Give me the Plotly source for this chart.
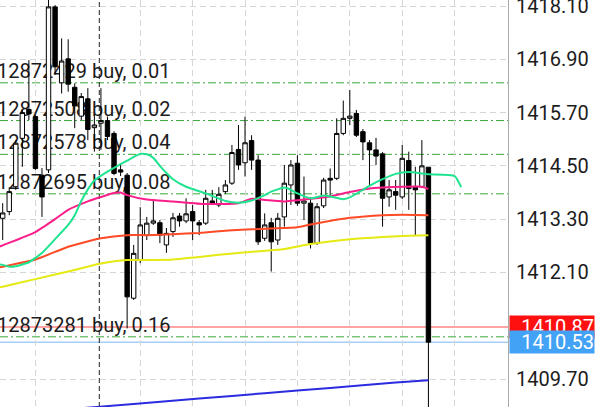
import plotly.graph_objects as go

# ---------------- data ----------------
bars = list(range(66))
opens = [1413.32, 1413.47, 1414.03, 1415.12, 1415.77, 1415.61, 1414.29, 1414.41, 1418.08, 1416.37,
         1416.91, 1416.27, 1415.62, 1416.01, 1415.36, 1415.46, 1415.52, 1415.23, 1414.41, 1414.29,
         1411.52, 1412.38, 1412.94, 1413.21, 1413.22, 1412.72, 1413.02, 1413.37, 1413.26, 1413.47,
         1413.22, 1413.21, 1413.71, 1413.62, 1413.92, 1414.11, 1414.87, 1414.57, 1415.07, 1414.63,
         1412.87, 1413.22, 1412.83, 1413.35, 1414.07, 1414.56, 1413.66, 1413.66, 1412.76, 1413.60,
         1414.22, 1414.22, 1415.23, 1415.57, 1415.68, 1415.27, 1415.02, 1414.86, 1414.77, 1413.80,
         1413.92, 1413.80, 1414.62, 1414.02, 1414.03, 1414.47]
highs = [1413.66, 1414.02, 1415.08, 1415.76, 1416.88, 1415.64, 1414.45, 1418.30, 1418.12, 1417.37,
         1417.35, 1416.36, 1416.14, 1416.25, 1415.64, 1416.25, 1415.61, 1415.28, 1414.56, 1414.34,
         1412.72, 1413.57, 1413.35, 1413.73, 1413.28, 1413.10, 1413.44, 1413.44, 1413.77, 1413.62,
         1413.28, 1413.96, 1413.96, 1414.02, 1414.18, 1414.97, 1415.42, 1415.61, 1415.19, 1414.74,
         1413.43, 1413.33, 1413.44, 1414.52, 1414.63, 1414.74, 1414.26, 1413.80, 1413.66, 1414.23,
         1414.44, 1415.57, 1415.97, 1416.21, 1415.76, 1415.33, 1415.08, 1415.13, 1414.81, 1414.18,
         1414.18, 1414.97, 1414.82, 1414.48, 1415.08, 1414.47]
lows = [1412.83, 1413.39, 1413.96, 1414.48, 1415.53, 1414.41, 1413.35, 1414.34, 1416.55, 1416.13,
        1416.17, 1415.35, 1415.53, 1415.08, 1414.82, 1414.86, 1415.08, 1414.29, 1414.27, 1410.84,
        1411.48, 1412.31, 1412.83, 1413.17, 1412.76, 1412.54, 1412.90, 1413.13, 1413.21, 1412.83,
        1412.94, 1413.17, 1413.62, 1413.57, 1413.87, 1414.07, 1414.41, 1414.26, 1414.41, 1412.72,
        1412.81, 1412.12, 1412.72, 1413.13, 1413.62, 1413.60, 1413.28, 1412.64, 1412.72, 1413.55,
        1413.80, 1414.18, 1415.19, 1415.42, 1415.15, 1414.63, 1414.07, 1414.52, 1413.13, 1413.58,
        1413.51, 1413.75, 1413.51, 1412.94, 1414.00, 1408.89]
closes = [1413.44, 1413.92, 1415.01, 1415.70, 1415.67, 1414.44, 1413.80, 1418.08, 1416.73, 1416.86,
          1416.34, 1415.85, 1416.06, 1415.32, 1415.42, 1415.52, 1415.16, 1414.33, 1414.36, 1411.55,
          1412.53, 1413.17, 1413.21, 1413.26, 1412.94, 1412.98, 1413.33, 1413.26, 1413.42, 1413.26,
          1413.17, 1413.77, 1413.66, 1413.86, 1414.07, 1414.80, 1414.52, 1415.02, 1414.63, 1412.79,
          1413.17, 1412.79, 1413.32, 1414.11, 1414.52, 1413.66, 1413.71, 1412.76, 1413.58, 1414.18,
          1414.18, 1415.23, 1415.57, 1415.62, 1415.19, 1415.04, 1414.86, 1414.72, 1413.77, 1413.96,
          1413.84, 1414.67, 1413.99, 1413.96, 1414.50, 1410.53]

green_x = [-1, 0, 1, 2, 4, 6, 8, 10, 11, 12, 13, 14, 16, 19, 21, 22, 23, 24, 25, 26, 28, 31, 34, 36, 38,
           40, 41, 43, 44, 45, 47, 49, 50, 52, 53, 55, 56, 58, 60, 62, 65, 69, 70]
green_y = [1412.29, 1412.27, 1412.23, 1412.24, 1412.33, 1412.54, 1412.85, 1413.17, 1413.39, 1413.71, 1413.97,
           1414.17, 1414.37, 1414.62, 1414.77, 1414.76, 1414.68, 1414.50, 1414.34, 1414.20, 1414.03,
           1413.88, 1413.71, 1413.67, 1413.72, 1413.84, 1413.92, 1414.01, 1413.96, 1413.88, 1413.77,
           1413.83, 1413.81, 1413.75, 1413.79, 1413.96, 1414.05, 1414.20, 1414.32, 1414.36, 1414.31,
           1414.27, 1414.02]
magenta_x = [-1, 0, 5, 8, 10, 13, 15, 17, 18, 19, 22, 26, 31, 36, 38, 40, 43, 47, 50, 53, 56, 58, 64, 65]
magenta_y = [1412.65, 1412.71, 1413.01, 1413.30, 1413.51, 1413.70, 1413.80, 1413.89, 1413.90, 1413.84,
             1413.74, 1413.70, 1413.64, 1413.66, 1413.76, 1413.73, 1413.70, 1413.76, 1413.81, 1413.91,
             1413.99, 1414.01, 1414.03, 1413.98]
orange_x = [-1, 0, 5, 10, 15, 19, 22, 26, 30, 35, 41, 45, 47, 53, 58, 61, 65]
orange_y = [1412.20, 1412.23, 1412.39, 1412.68, 1412.87, 1412.94, 1412.94, 1412.96, 1412.99, 1413.05,
            1413.09, 1413.12, 1413.18, 1413.33, 1413.39, 1413.40, 1413.39]
yellow_x = [-1, 0, 5, 10, 15, 19, 23, 26, 30, 36, 43, 47, 53, 58, 61, 65]
yellow_y = [1411.75, 1411.78, 1411.95, 1412.12, 1412.30, 1412.38, 1412.38, 1412.39, 1412.45, 1412.54,
            1412.63, 1412.74, 1412.85, 1412.90, 1412.92, 1412.94]
blue_x = [11, 20, 30, 40, 50, 60, 65]
blue_y = [1409.03, 1409.14, 1409.26, 1409.38, 1409.50, 1409.62, 1409.67]

order_ids = ["12872429", "12872508", "12872578", "12872695", "12873281"]
order_lots = ["0.01", "0.02", "0.04", "0.08", "0.16"]
order_prices = [1416.37, 1415.52, 1414.76, 1413.87, 1410.65]
ask_price = 1410.87
bid_price = 1410.53
price_ticks = [1418.10, 1416.90, 1415.70, 1414.50, 1413.30, 1412.10, 1409.70]
time_grid = [5, 21, 29, 37, 45, 53, 61, 69]
separator_pos = 14.75

Y_RANGE = [1409.07, 1418.235]
X_RANGE = [-0.41, 77.15]

FONT = "Roboto"
TXT = "#1c1c1c"
GRID = "#d6d6d6"

# ---------------- figure ----------------
fig = go.Figure()

# order labels (base subplot, drawn under the candles)
fig.add_trace(go.Scatter(
    x=[X_RANGE[0] - 0.45] * len(order_ids), y=order_prices,
    mode="text", text=[f"{i} buy, {l}" for i, l in zip(order_ids, order_lots)],
    textposition="top right", textfont=dict(family=FONT, size=20, color=TXT),
    hoverinfo="skip", cliponaxis=True, xaxis="x", yaxis="y"))

# candles (overlay subplot)
fig.add_trace(go.Candlestick(
    x=bars, open=opens, high=highs, low=lows, close=closes,
    increasing=dict(fillcolor="white", line=dict(color="black", width=1)),
    decreasing=dict(fillcolor="black", line=dict(color="black", width=1)),
    whiskerwidth=0, hoverinfo="skip", xaxis="x2", yaxis="y2"))

ma = [(blue_x, blue_y, "#2b2be0"), (yellow_x, yellow_y, "#e4ea12"),
      (orange_x, orange_y, "#ff4a26"), (magenta_x, magenta_y, "#fb1e8a"),
      (green_x, green_y, "#1ee38f")]
for xs, ys, col in ma:
    fig.add_trace(go.Scatter(x=xs, y=ys, mode="lines",
                             line=dict(color=col, width=2, shape="spline", smoothing=0.5),
                             hoverinfo="skip", xaxis="x2", yaxis="y2"))

shapes = []
for p in order_prices:
    shapes.append(dict(type="line", xref="paper", x0=0, x1=1, yref="y", y0=p, y1=p,
                       line=dict(color="#3aa63a", width=1, dash="8px,3px,2px,3px"), layer="between"))
shapes.append(dict(type="line", xref="paper", x0=0, x1=1, yref="y", y0=ask_price, y1=ask_price,
                   line=dict(color="#ffa3a3", width=2), layer="between"))
shapes.append(dict(type="line", xref="paper", x0=0, x1=1, yref="y", y0=bid_price, y1=bid_price,
                   line=dict(color="#a6cff7", width=1.5), layer="between"))
shapes.append(dict(type="line", xref="x", x0=separator_pos, x1=separator_pos, yref="paper", y0=0, y1=1,
                   line=dict(color="#222222", width=1, dash="5px,3px"), layer="between"))

annotations = [
    dict(xref="paper", x=1, xanchor="left", xshift=1, yref="y", y=ask_price, yanchor="middle",
         text="1410.87", showarrow=False, bgcolor="#ff1010", width=84, height=22, align="right",
         borderpad=0, font=dict(family=FONT, size=20, color="white")),
    dict(xref="paper", x=1, xanchor="left", xshift=1, yref="y", y=bid_price, yanchor="middle",
         text="1410.53", showarrow=False, bgcolor="#42a2f5", width=84, height=22, align="right",
         borderpad=0, font=dict(family=FONT, size=20, color="white")),
]

fig.update_layout(
    width=600, height=407, margin=dict(l=0, r=92, t=0, b=0, autoexpand=False),
    paper_bgcolor="white", plot_bgcolor="white", showlegend=False,
    boxgap=0.33, boxgroupgap=0,
    xaxis=dict(range=X_RANGE, tickvals=time_grid, showticklabels=False, ticks="",
               showgrid=True, gridcolor=GRID, griddash="6px,4px", gridwidth=1,
               zeroline=False, showline=False, fixedrange=True),
    yaxis=dict(range=Y_RANGE, side="right", tickvals=price_ticks,
               ticktext=[f"{v:.2f}" for v in price_ticks], ticks="",
               tickfont=dict(family=FONT, size=20, color=TXT), ticklabelstandoff=3,
               ticklabeloverflow="allow",
               showgrid=True, gridcolor=GRID, griddash="6px,4px", gridwidth=1,
               showline=True, linecolor="#a9a9a9", linewidth=1, zeroline=False),
    xaxis2=dict(range=X_RANGE, overlaying="x", anchor="y2", visible=False,
                rangeslider=dict(visible=False)),
    yaxis2=dict(range=Y_RANGE, overlaying="y", anchor="x2", visible=False),
    shapes=shapes, annotations=annotations,
)

fig.write_html("out.html", config={"displayModeBar": False},
               post_script="document.body.style.margin='0';")
